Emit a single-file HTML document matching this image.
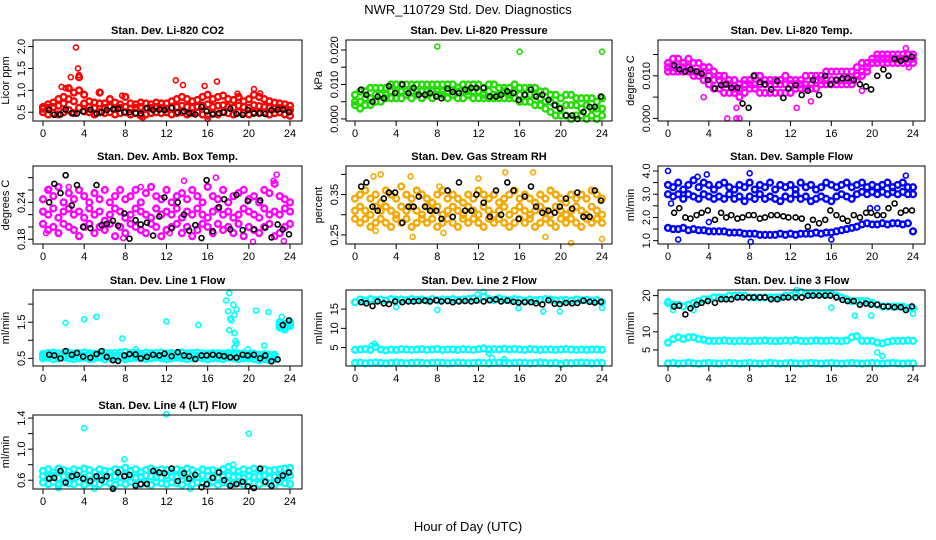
<!DOCTYPE html>
<html><head><meta charset="utf-8"><style>
html,body{margin:0;padding:0;background:#fff;}
svg{display:block;font-family:"Liberation Sans",sans-serif;}
</style></head><body>
<svg id="chart" width="936" height="540" viewBox="0 0 936 540" xmlns="http://www.w3.org/2000/svg">
<rect width="936" height="540" fill="#fff"/>
<text x="468" y="14" text-anchor="middle" font-size="13">NWR_110729  Std. Dev. Diagnostics</text>
<text x="468" y="531" text-anchor="middle" font-size="13">Hour of Day (UTC)</text>
</svg>
<script>
const cloudHours=[0,0.5,1,1.5,2,2.5,3,3.5,4,4.5,5,5.5,6,6.5,7,7.5,8,8.5,9,9.5,10,10.5,11,11.5,12,12.5,13,13.5,14,14.5,15,15.5,16,16.5,17,17.5,18,18.5,19,19.5,20,20.5,21,21.5,22,22.5,23,23.5,24];
const blackHours=[0.6,1.1,1.7,2.2,2.8,3.3,3.9,4.6,5.2,5.7,6.2,6.8,7.3,7.9,8.4,9.0,9.5,10.1,10.7,11.3,11.8,12.5,13.1,13.7,14.2,14.8,15.4,15.9,16.5,17.1,17.6,18.2,18.8,19.4,19.9,20.5,21.1,21.6,22.2,22.8,23.3,23.9];
const xTicks=[0,4,8,12,16,20,24];

const co2A=[0.62,0.68,0.72,0.80,0.85,1.05,0.95,1.30,0.90,0.75,0.72,0.95,0.70,0.80,0.72,0.68,0.85,0.70,0.68,0.72,0.70,0.68,0.72,0.70,0.70,0.75,0.80,0.85,0.80,0.75,0.78,0.85,0.90,0.80,0.85,0.88,0.80,0.78,0.85,0.75,0.80,0.90,0.85,0.80,0.75,0.72,0.70,0.68,0.65];
const co2C=[0.58,0.60,0.62,0.65,0.70,0.80,0.75,1.00,0.70,0.62,0.60,0.70,0.60,0.62,0.58,0.60,0.62,0.58,0.60,0.62,0.58,0.60,0.62,0.60,0.58,0.60,0.62,0.65,0.62,0.60,0.62,0.65,0.68,0.62,0.65,0.66,0.62,0.60,0.65,0.62,0.60,0.66,0.64,0.62,0.60,0.58,0.60,0.58,0.55];
const co2B=[0.50,0.45,0.48,0.45,0.50,0.55,0.48,0.60,0.52,0.50,0.45,0.50,0.48,0.50,0.45,0.48,0.50,0.45,0.48,0.42,0.45,0.48,0.50,0.48,0.50,0.45,0.48,0.50,0.45,0.48,0.50,0.45,0.42,0.48,0.45,0.50,0.48,0.45,0.50,0.48,0.45,0.50,0.48,0.50,0.45,0.48,0.50,0.45,0.42];
const co2Out=[[3.2,1.98],[3.4,1.5],[3.5,1.35],[2.7,1.3],[1.8,1.08],[2.2,1.05],[12.9,1.23],[13.6,1.12],[15.7,1.1],[16.9,1.2],[20.5,1.03],[5.6,0.95],[7.7,0.88],[21.1,0.93],[18.9,0.92],[9.7,0.38],[16,0.35]];
const co2K=[0.55,0.44,0.45,0.56,0.48,0.47,0.52,0.56,0.47,0.50,0.55,0.57,0.58,0.50,0.50,0.48,0.47,0.60,0.55,0.56,0.55,0.60,0.50,0.52,0.48,0.45,0.62,0.52,0.45,0.48,0.50,0.58,0.46,0.44,0.55,0.47,0.48,0.46,0.55,0.56,0.56,0.50];

const prsA=[0.007,0.008,0.008,0.009,0.009,0.009,0.009,0.010,0.010,0.010,0.010,0.010,0.010,0.010,0.010,0.010,0.010,0.010,0.010,0.010,0.009,0.010,0.010,0.010,0.010,0.009,0.010,0.010,0.009,0.009,0.009,0.010,0.009,0.009,0.009,0.009,0.008,0.008,0.007,0.007,0.006,0.007,0.007,0.006,0.006,0.006,0.006,0.005,0.006];
const prsC=[0.005,0.005,0.006,0.006,0.007,0.007,0.007,0.008,0.008,0.008,0.008,0.008,0.008,0.008,0.008,0.008,0.008,0.008,0.008,0.008,0.008,0.008,0.008,0.008,0.008,0.007,0.008,0.007,0.007,0.008,0.007,0.008,0.007,0.007,0.007,0.007,0.006,0.005,0.005,0.004,0.003,0.004,0.004,0.004,0.003,0.004,0.003,0.003,0.003];
const prsB=[0.004,0.003,0.004,0.004,0.005,0.005,0.006,0.006,0.006,0.006,0.007,0.006,0.007,0.006,0.007,0.006,0.007,0.007,0.006,0.007,0.006,0.006,0.007,0.006,0.006,0.006,0.006,0.006,0.006,0.006,0.006,0.006,0.005,0.005,0.005,0.004,0.004,0.003,0.002,0.001,0.001,0.001,0.000,0.001,0.001,0.000,0.001,0.000,0.001];
const prsOut=[[8,0.021],[16,0.0195],[24,0.0195]];
const prsK=[0.0085,0.007,0.005,0.0065,0.006,0.0095,0.0075,0.010,0.0075,0.009,0.007,0.007,0.0075,0.0065,0.006,0.0088,0.0078,0.0075,0.0085,0.009,0.009,0.009,0.0065,0.0065,0.007,0.008,0.0075,0.0055,0.007,0.0085,0.0065,0.007,0.0055,0.004,0.003,0.001,0.001,0.000,0.002,0.0035,0.0035,0.0065];

const tmpA=[0.013,0.014,0.014,0.013,0.014,0.013,0.013,0.012,0.012,0.011,0.010,0.010,0.009,0.009,0.008,0.009,0.009,0.010,0.010,0.009,0.009,0.009,0.009,0.010,0.009,0.009,0.009,0.010,0.010,0.010,0.010,0.011,0.011,0.011,0.011,0.011,0.011,0.012,0.013,0.013,0.014,0.015,0.015,0.015,0.015,0.015,0.015,0.015,0.015];
const tmpC=[0.012,0.012,0.012,0.012,0.012,0.011,0.011,0.011,0.010,0.009,0.009,0.008,0.008,0.007,0.007,0.008,0.008,0.008,0.008,0.008,0.008,0.008,0.008,0.008,0.008,0.008,0.008,0.008,0.008,0.009,0.009,0.009,0.009,0.009,0.009,0.009,0.009,0.010,0.011,0.012,0.013,0.014,0.014,0.014,0.014,0.014,0.014,0.014,0.014];
const tmpB=[0.011,0.011,0.011,0.011,0.011,0.010,0.010,0.009,0.008,0.007,0.007,0.006,0.006,0.006,0.005,0.006,0.007,0.007,0.006,0.006,0.006,0.006,0.006,0.006,0.006,0.007,0.007,0.007,0.007,0.007,0.008,0.008,0.008,0.008,0.008,0.008,0.008,0.009,0.010,0.011,0.013,0.013,0.013,0.013,0.013,0.013,0.013,0.013,0.013];
const tmpOut=[[5.8,0],[6.7,0],[7.0,0],[6.7,0.0025],[12.6,0.0025],[14,0.004],[19,0.0065],[23.3,0.0165],[23.6,0.012],[3.5,0.005]];
const tmpK=[0.0125,0.0115,0.011,0.0115,0.011,0.0105,0.009,0.007,0.0078,0.008,0.0072,0.0072,0.0035,0.0025,0.010,0.0085,0.008,0.0068,0.0088,0.0048,0.007,0.0078,0.0055,0.0065,0.009,0.0055,0.010,0.008,0.0090,0.0094,0.0095,0.009,0.008,0.0075,0.0068,0.0100,0.0115,0.010,0.014,0.0135,0.014,0.0145];

const ambA=[0.245,0.26,0.25,0.265,0.24,0.255,0.245,0.26,0.25,0.24,0.255,0.245,0.26,0.24,0.25,0.26,0.245,0.25,0.26,0.24,0.255,0.265,0.25,0.245,0.26,0.24,0.25,0.255,0.245,0.26,0.25,0.24,0.265,0.25,0.245,0.26,0.24,0.25,0.255,0.26,0.245,0.25,0.24,0.26,0.255,0.27,0.25,0.245,0.24];
const ambC=[0.225,0.22,0.23,0.215,0.225,0.23,0.22,0.225,0.215,0.23,0.22,0.225,0.21,0.22,0.23,0.225,0.215,0.22,0.23,0.225,0.22,0.215,0.23,0.22,0.225,0.22,0.23,0.215,0.225,0.22,0.23,0.22,0.215,0.225,0.23,0.22,0.225,0.215,0.22,0.23,0.225,0.22,0.215,0.23,0.22,0.225,0.22,0.23,0.225];
const ambB=[0.205,0.195,0.2,0.19,0.205,0.2,0.195,0.185,0.2,0.205,0.19,0.2,0.195,0.205,0.185,0.2,0.19,0.205,0.2,0.195,0.19,0.205,0.2,0.185,0.195,0.2,0.205,0.19,0.2,0.185,0.195,0.205,0.2,0.19,0.205,0.195,0.2,0.19,0.205,0.185,0.2,0.195,0.19,0.2,0.205,0.185,0.19,0.2,0.205];
const ambOut=[[0.3,0.19],[1.5,0.19],[16.8,0.28],[22.7,0.285],[22.4,0.275],[0.6,0.262],[23.4,0.177],[20.4,0.176],[7.8,0.182],[12.3,0.19],[2.5,0.265],[9.5,0.265],[13.7,0.275]];
const ambK=[0.24,0.27,0.255,0.284,0.235,0.268,0.2,0.198,0.268,0.203,0.205,0.21,0.202,0.222,0.181,0.211,0.204,0.207,0.186,0.217,0.248,0.198,0.24,0.22,0.194,0.203,0.182,0.276,0.193,0.232,0.245,0.196,0.252,0.195,0.242,0.196,0.243,0.199,0.183,0.204,0.196,0.188];

const rhA=[0.34,0.35,0.36,0.34,0.35,0.33,0.36,0.35,0.34,0.37,0.35,0.34,0.36,0.35,0.34,0.33,0.35,0.36,0.34,0.35,0.34,0.33,0.35,0.34,0.36,0.35,0.34,0.35,0.33,0.34,0.35,0.36,0.34,0.35,0.34,0.33,0.35,0.34,0.36,0.35,0.34,0.33,0.35,0.34,0.35,0.34,0.36,0.35,0.34];
const rhC=[0.31,0.32,0.31,0.30,0.32,0.31,0.32,0.31,0.30,0.32,0.31,0.32,0.31,0.30,0.32,0.31,0.32,0.30,0.31,0.32,0.31,0.30,0.32,0.31,0.30,0.32,0.31,0.30,0.31,0.32,0.30,0.31,0.32,0.31,0.30,0.31,0.32,0.31,0.30,0.32,0.31,0.30,0.31,0.32,0.31,0.30,0.32,0.31,0.30];
const rhB=[0.29,0.28,0.29,0.27,0.28,0.29,0.28,0.27,0.29,0.28,0.29,0.27,0.28,0.29,0.28,0.29,0.27,0.28,0.29,0.28,0.27,0.29,0.28,0.29,0.28,0.27,0.29,0.28,0.29,0.28,0.27,0.28,0.29,0.28,0.29,0.27,0.28,0.29,0.28,0.27,0.29,0.28,0.29,0.28,0.27,0.29,0.28,0.29,0.28];
const rhOut=[[1.8,0.395],[2.5,0.40],[5.4,0.395],[8.2,0.37],[14.6,0.405],[17.3,0.405],[21,0.23],[24,0.24],[2,0.26],[5.6,0.245],[18.5,0.245],[8.6,0.255],[12,0.39]];
const rhK=[0.37,0.38,0.32,0.31,0.34,0.355,0.355,0.28,0.32,0.32,0.345,0.32,0.31,0.31,0.29,0.36,0.295,0.38,0.31,0.31,0.35,0.33,0.295,0.36,0.30,0.38,0.36,0.29,0.345,0.37,0.32,0.305,0.31,0.305,0.32,0.34,0.315,0.355,0.295,0.295,0.36,0.335];

const sfA=[3.4,3.3,3.5,3.2,3.4,3.6,3.3,3.5,3.4,3.2,3.4,3.5,3.3,3.2,3.4,3.3,3.5,3.2,3.4,3.3,3.5,3.2,3.4,3.3,3.4,3.2,3.5,3.3,3.4,3.2,3.3,3.5,3.4,3.3,3.4,3.5,3.3,3.4,3.5,3.3,3.4,3.3,3.4,3.5,3.3,3.4,3.5,3.3,3.3];
const sfC=[3.0,2.9,3.0,2.8,3.0,2.9,2.8,3.0,2.9,2.8,2.9,2.8,3.0,2.8,2.9,2.7,2.9,2.8,3.0,2.8,2.9,2.8,2.7,2.9,2.8,3.0,2.8,2.9,2.7,2.8,2.9,2.8,2.7,2.9,3.0,2.9,2.8,3.0,3.1,3.0,3.1,3.0,3.1,3.0,3.1,3.0,3.1,3.0,3.0];
const sfB=[1.55,1.5,1.5,1.55,1.45,1.5,1.45,1.45,1.4,1.4,1.4,1.4,1.35,1.35,1.35,1.3,1.3,1.3,1.25,1.25,1.25,1.25,1.3,1.25,1.3,1.25,1.3,1.3,1.3,1.35,1.3,1.35,1.35,1.4,1.45,1.5,1.55,1.6,1.7,1.75,1.7,1.7,1.75,1.7,1.75,1.75,1.7,1.75,1.4];
const sfOut=[[0,4.0],[3.8,3.85],[8,3.9],[2.9,3.75],[1,1.05],[8.1,0.95],[16,1.05],[0.3,2.6],[4,1.8],[19.8,2.4],[20.5,2.4],[23.3,3.8]];
const sfK=[2.2,2.4,2.0,1.95,2.1,2.2,2.3,1.9,2.2,2.0,2.1,1.95,2.0,2.1,2.1,1.95,2.0,2.1,2.1,2.05,2.0,2.0,1.95,1.6,1.9,1.75,1.9,2.3,2.1,1.95,1.85,2.1,2.0,2.2,2.2,2.1,2.1,2.4,2.6,2.2,2.3,2.3];

const l1A=[0.62,0.65,0.66,0.64,0.65,0.66,0.64,0.65,0.66,0.64,0.63,0.65,0.66,0.64,0.65,0.66,0.68,0.64,0.65,0.63,0.66,0.64,0.65,0.66,0.64,0.65,0.63,0.66,0.64,0.65,0.66,0.64,0.63,0.65,0.64,0.63,0.65,0.64,0.63,0.64,0.62,0.63,0.6,0.62,0.6,0.6,1.5,1.45,1.5];
const l1C=[0.57,0.57,0.58,0.56,0.57,0.58,0.57,0.56,0.57,0.58,0.57,0.56,0.57,0.58,0.57,0.57,0.56,0.58,0.57,0.56,0.57,0.58,0.57,0.56,0.57,0.58,0.57,0.56,0.57,0.58,0.57,0.56,0.57,0.58,0.57,0.56,0.57,0.58,0.56,0.57,0.56,0.55,0.54,0.55,0.54,0.55,1.42,1.38,1.45];
const l1B=[0.5,0.52,0.48,0.5,0.52,0.5,0.48,0.5,0.52,0.48,0.5,0.52,0.48,0.5,0.5,0.52,0.48,0.5,0.52,0.5,0.48,0.5,0.52,0.5,0.48,0.5,0.52,0.5,0.48,0.5,0.52,0.5,0.48,0.5,0.5,0.48,0.52,0.5,0.48,0.5,0.5,0.48,0.45,0.48,0.45,0.48,1.35,1.3,1.4];
const l1Out=[[2.2,1.48],[4,1.58],[5.2,1.65],[7.7,1.05],[12,1.52],[15.1,1.42],[17.8,2.1],[18.1,2.3],[18.0,1.8],[18.2,1.6],[18.3,1.55],[18.6,1.7],[18.8,1.85],[18.5,1.98],[18.1,1.28],[18.6,1.2],[18.7,0.98],[18.8,0.92],[18.6,0.8],[20.7,1.82],[21.9,1.78],[21.5,0.85],[23.2,1.65],[19.9,0.75],[9,0.75]];
const l1K=[0.6,0.58,0.5,0.7,0.6,0.65,0.55,0.52,0.62,0.7,0.54,0.45,0.43,0.58,0.62,0.61,0.5,0.54,0.6,0.58,0.63,0.56,0.67,0.58,0.56,0.48,0.58,0.58,0.6,0.58,0.56,0.53,0.52,0.6,0.58,0.6,0.5,0.58,0.42,0.47,1.42,1.55];

const l2A=[16.8,17.5,17.2,17.6,17.3,17.5,17.2,17.6,17.4,17.5,17.3,17.6,17.4,17.5,17.2,17.6,17.3,17.5,17.4,17.6,17.3,17.5,17.6,17.8,17.5,18.2,17.6,17.4,17.8,17.5,17.3,17.6,17.4,17.2,17.5,17.3,17.4,17.6,17.5,17.2,17.3,17.4,17.2,17.5,17.3,17.4,17.2,17.3,16.8];
const l2B=[4.4,4.5,4.6,4.4,5.2,4.5,4.3,4.5,4.4,4.6,4.5,4.4,4.5,4.6,4.4,4.5,4.6,4.4,4.5,4.5,4.4,4.6,4.5,4.4,4.6,4.8,4.5,4.6,4.5,4.7,4.5,4.6,4.5,4.4,4.6,4.5,4.4,4.5,4.5,4.4,4.5,4.6,4.5,4.4,4.5,4.4,4.5,4.5,4.4];
const l2C=[1.0,1.1,0.9,1.0,1.1,1.0,0.9,1.0,1.1,1.0,0.9,1.0,1.1,1.0,0.9,1.0,1.1,1.0,0.9,1.0,1.1,1.0,0.9,1.0,1.1,1.0,0.9,1.0,1.1,1.0,0.9,1.0,1.1,1.0,0.9,1.0,1.1,1.0,0.9,1.0,0.7,1.0,0.9,1.0,1.1,1.0,0.9,1.0,1.0];
const l2Out=[[1.9,6],[1.6,5.5],[8,14.8],[4,15.5],[15.9,15.2],[18.3,14.4],[19.9,14.4],[24,15.3],[12.5,19.5],[11.9,18.8],[13.3,2.3],[14.5,2.0],[13,3.5]];
const l2K=[16.8,16.5,15.8,17.0,16.5,16.3,17.0,16.8,17.0,17.0,17.1,17.2,17.0,17.3,17.0,17.1,16.8,17.0,17.1,17.0,17.2,17.0,17.3,17.5,17.0,17.2,16.9,16.7,16.8,16.8,16.5,16.2,17.3,16.4,16.3,16.6,16.5,16.6,17.2,16.9,16.7,16.9];

const l3A=[18,17.5,17.5,17,17.5,18,18.5,19,19,19.5,19.5,19.5,20,20,20,20,19.5,19.5,19.5,19.5,19.5,19.5,19.5,20,20,20.5,21,20.5,20.5,20.5,20.5,20.5,20.5,20,19.5,19,18.5,18.5,18.5,18.5,18,17.5,17,17,17,17,17,16.5,16.5];
const l3B=[7,8,8.5,8,8.5,8.5,8,7.8,7.5,7.5,7.5,7.6,7.5,7.4,7.5,7.5,7.4,7.5,7.5,7.6,7.5,7.4,7.5,7.6,7.5,7.7,7.5,7.4,7.5,7.6,7.5,7.5,7.6,7.5,7.4,7.6,8.5,8.8,7.5,7.5,7.5,7,6.8,7.2,7.5,7.5,7.5,7.6,7.5];
const l3C=[1.3,1.4,1.2,1.3,1.5,1.3,1.2,1.3,1.4,1.3,1.2,1.3,1.4,1.3,1.2,1.3,1.4,1.3,1.2,1.3,1.4,1.3,1.2,1.3,1.4,1.3,1.2,1.3,1.4,1.3,1.2,1.3,1.4,1.3,1.2,1.3,1.4,1.3,1.2,1.3,1.4,1.3,1.2,1.3,1.4,1.3,1.2,1.3,1.3];
const l3Out=[[0.5,16],[2.5,16],[18.3,14.5],[19.9,14.5],[24,15],[16,16.7],[20.5,4.3],[21,3.3],[0,18.5],[12.6,21.5]];
const l3K=[17,17.2,14.8,16.5,17.5,18,18.5,18,19,19,19,19.5,19.5,19.5,19.5,19.5,19.5,19,19,19.5,19.5,19.5,19.5,20,20,20,20,20,19.5,18.8,18.5,18.5,17.5,17.8,17.5,17.5,17,17,16.8,16.8,16,17];

const l4A=[0.72,0.74,0.7,0.75,0.73,0.71,0.74,0.72,0.75,0.73,0.7,0.74,0.72,0.71,0.74,0.73,0.76,0.72,0.74,0.7,0.73,0.75,0.72,0.74,0.73,0.71,0.74,0.72,0.75,0.73,0.7,0.74,0.72,0.73,0.71,0.74,0.77,0.73,0.71,0.74,0.72,0.75,0.73,0.74,0.72,0.73,0.74,0.75,0.76];
const l4C=[0.65,0.64,0.66,0.63,0.65,0.66,0.64,0.65,0.63,0.66,0.64,0.65,0.66,0.63,0.65,0.64,0.66,0.65,0.63,0.64,0.66,0.65,0.64,0.63,0.66,0.65,0.64,0.66,0.63,0.65,0.64,0.66,0.65,0.64,0.63,0.65,0.66,0.64,0.65,0.63,0.66,0.64,0.65,0.66,0.63,0.65,0.64,0.65,0.66];
const l4B=[0.57,0.55,0.58,0.54,0.57,0.56,0.55,0.58,0.54,0.57,0.56,0.55,0.58,0.56,0.54,0.57,0.55,0.58,0.56,0.55,0.57,0.54,0.58,0.56,0.55,0.57,0.56,0.54,0.58,0.55,0.57,0.56,0.55,0.58,0.54,0.57,0.56,0.55,0.57,0.54,0.58,0.56,0.55,0.57,0.56,0.55,0.58,0.56,0.55];
const l4Out=[[4,1.27],[12,1.45],[20,1.2],[7.9,0.87],[1.5,0.5],[5,0.49],[14.3,0.49],[6.8,0.5],[18.5,0.8]];
const l4K=[0.62,0.63,0.72,0.57,0.65,0.67,0.62,0.59,0.65,0.6,0.65,0.49,0.7,0.65,0.67,0.53,0.55,0.55,0.72,0.7,0.69,0.75,0.59,0.69,0.62,0.67,0.51,0.55,0.63,0.7,0.6,0.53,0.55,0.58,0.52,0.5,0.75,0.58,0.53,0.6,0.66,0.7];

const NS="http://www.w3.org/2000/svg";
const svg=document.getElementById('chart');
function mk(tag,attrs,parent){const e=document.createElementNS(NS,tag);for(const k in attrs)e.setAttribute(k,attrs[k]);(parent||svg).appendChild(e);return e;}

const cols=[{l:33,r:302,x0:43,x24:290},{l:346,r:612,x0:355,x24:602},{l:658,r:925,x0:668,x24:913}];
const rows=[{t:40,b:121},{t:166,b:244},{t:290,b:366},{t:415,b:489}];

const panels=[
 {key:'co2',c:0,r:0,title:'Stan. Dev. Li-820 CO2',ylab:'Licor ppm',ylim:[0.30,2.15],ticks:[0.5,1.0,1.5,2.0],labels:['0.5','1.0','1.5','2.0'],color:'#ff0000',clouds:[co2A,co2C,co2B],out:co2Out,black:co2K},
 {key:'pressure',c:1,r:0,title:'Stan. Dev. Li-820 Pressure',ylab:'kPa',ylim:[-0.0006,0.0229],ticks:[0,0.005,0.01,0.015,0.02],labels:['0.000','','0.010','','0.020'],color:'#22dd00',clouds:[prsA,prsC,prsB],out:prsOut,black:prsK},
 {key:'temp',c:2,r:0,title:'Stan. Dev. Li-820 Temp.',ylab:'degrees C',ylim:[-0.0006,0.0184],ticks:[0,0.005,0.01,0.015],labels:['0.000','','0.010',''],color:'#ff00ff',clouds:[tmpA,tmpC,tmpB],out:tmpOut,black:tmpK},
 {key:'amb-temp',c:0,r:1,title:'Stan. Dev. Amb. Box Temp.',ylab:'degrees C',ylim:[0.1723,0.299],ticks:[0.18,0.20,0.22,0.24,0.26,0.28],labels:['0.18','','','0.24','',''],color:'#ff00ff',clouds:[ambA,ambC,ambB],out:ambOut,black:ambK},
 {key:'rh',c:1,r:1,title:'Stan. Dev. Gas Stream RH',ylab:'percent',ylim:[0.2275,0.4208],ticks:[0.25,0.30,0.35,0.40],labels:['0.25','','0.35',''],color:'#f5a800',clouds:[rhA,rhC,rhB],out:rhOut,black:rhK},
 {key:'sample-flow',c:2,r:1,title:'Stan. Dev. Sample Flow',ylab:'ml/min',ylim:[0.857,4.214],ticks:[1,1.5,2,2.5,3,3.5,4],labels:['1.0','','2.0','','3.0','','4.0'],color:'#0000ff',clouds:[sfA,sfC,sfB],out:sfOut,black:sfK},
 {key:'line1',c:0,r:2,title:'Stan. Dev. Line 1 Flow',ylab:'ml/min',ylim:[0.289,2.39],ticks:[0.5,1.0,1.5,2.0],labels:['0.5','','1.5',''],color:'#00ffff',clouds:[l1A,l1C,l1B],out:l1Out,black:l1K},
 {key:'line2',c:1,r:2,title:'Stan. Dev. Line 2 Flow',ylab:'ml/min',ylim:[0.22,19.96],ticks:[5,10,15],labels:['5','10','15'],color:'#00ffff',clouds:[l2A,l2B,l2C],out:l2Out,black:l2K},
 {key:'line3',c:2,r:2,title:'Stan. Dev. Line 3 Flow',ylab:'ml/min',ylim:[0.56,21.55],ticks:[5,10,15,20],labels:['5','10','','20'],color:'#00ffff',clouds:[l3A,l3B,l3C],out:l3Out,black:l3K},
 {key:'line4',c:0,r:3,title:'Stan. Dev. Line 4 (LT) Flow',ylab:'ml/min',ylim:[0.487,1.44],ticks:[0.6,0.8,1.0,1.2,1.4],labels:['0.6','','1.0','','1.4'],color:'#00ffff',clouds:[l4A,l4C,l4B],out:l4Out,black:l4K}
];

panels.forEach(p=>{
 const C=cols[p.c],R=rows[p.r];
 const g=mk('g',{});
 
 
 const xs=v=>C.x0+(v/24)*(C.x24-C.x0);
 const ys=v=>R.b-(v-p.ylim[0])/(p.ylim[1]-p.ylim[0])*(R.b-R.t);
 const t=mk('text',{x:(C.l+C.r)/2,y:R.t-6,'text-anchor':'middle','font-size':11,'font-weight':'bold'},g);
 t.textContent=p.title;
 
 
 const pts=mk('g',{fill:'none'},g);
 
 
 p.clouds.forEach(arr=>{
  const n=Math.min(arr.length,cloudHours.length);
  for(let i=0;i<n;i++){
   const c=mk('circle',{cx:xs(cloudHours[i]),cy:ys(arr[i]),r:2.9,stroke:p.color,'stroke-width':2.4},pts);
   
   
  }
 });
 p.out.forEach(o=>{
  const c=mk('circle',{cx:xs(o[0]),cy:ys(o[1]),r:2.5,stroke:p.color,'stroke-width':1.6},pts);
  
  
 });
 const n=Math.min(p.black.length,blackHours.length);
 for(let i=0;i<n;i++){
  const c=mk('circle',{cx:xs(blackHours[i]),cy:ys(p.black[i]),r:2.5,stroke:'#000','stroke-width':1.6},pts);
  
  
 }
 const box=mk('rect',{x:C.l,y:R.t,width:C.r-C.l,height:R.b-R.t,fill:'none',stroke:'#000','stroke-width':1},g);
 
 
 const xa=mk('g',{},g);
 
 
 mk('line',{x1:xs(0),x2:xs(24),y1:R.b,y2:R.b,stroke:'#000'},xa);
 xTicks.forEach(v=>{
  mk('line',{x1:xs(v),x2:xs(v),y1:R.b,y2:R.b+5,stroke:'#000'},xa);
  const tx=mk('text',{x:xs(v),y:R.b+16,'text-anchor':'middle','font-size':11},xa);
  tx.textContent=v;
  
  
 });
 const ya=mk('g',{},g);
 
 
 mk('line',{x1:C.l,x2:C.l,y1:ys(p.ticks[0]),y2:ys(p.ticks[p.ticks.length-1]),stroke:'#000'},ya);
 p.ticks.forEach((v,i)=>{
  const y=ys(v);
  mk('line',{x1:C.l-5,x2:C.l,y1:y,y2:y,stroke:'#000'},ya);
  if(p.labels[i]){
   const tx=mk('text',{x:C.l-8,y:y,'text-anchor':'middle','font-size':11,transform:'rotate(-90 '+(C.l-8)+' '+y+')'},ya);
   tx.textContent=p.labels[i];
   
   
  }
 });
 const yl=mk('text',{x:C.l-24,y:(R.t+R.b)/2,'text-anchor':'middle','font-size':11,transform:'rotate(-90 '+(C.l-24)+' '+((R.t+R.b)/2)+')'},g);
 yl.textContent=p.ylab;
 
 
});
</script>
</body></html>
